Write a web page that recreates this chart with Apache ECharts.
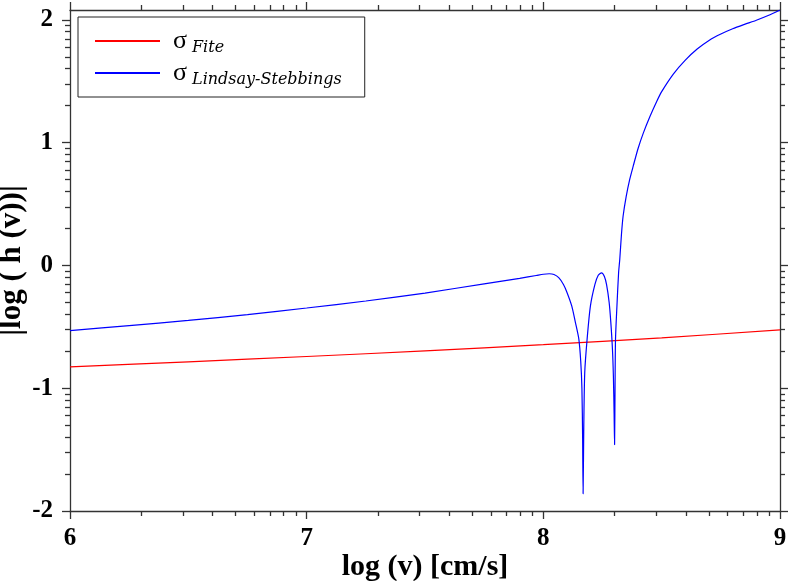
<!DOCTYPE html>
<html>
<head>
<meta charset="utf-8">
<script src="https://cdn.jsdelivr.net/npm/echarts@6/dist/echarts.min.js"></script>
<style>
  html, body { margin: 0; padding: 0; background: #fff; }
  #chart { width: 789px; height: 581px; }
</style>
</head>
<body>
<div id="chart"></div>
<script>
// tick labels
var xMajor = [6, 7, 8, 9];
var yMajor = [-2, -1, 0, 1, 2];

// sigma Fite (red)
var fiteX = [6.0, 6.5, 7.0, 7.5, 8.0, 8.5, 9.0];
var fiteY = [-0.826, -0.785, -0.742, -0.696, -0.645, -0.59, -0.525];

// sigma Lindsay-Stebbings (blue)
var lsX = [6.0, 6.25, 6.5, 6.75, 7.0, 7.25, 7.5, 7.75, 7.9, 7.97, 8.0, 8.025, 8.045, 8.065, 8.085,
  8.10, 8.12, 8.135, 8.15, 8.158, 8.163, 8.166, 8.168, 8.171, 8.175, 8.185, 8.199, 8.218, 8.232,
  8.246, 8.258, 8.267, 8.278, 8.285, 8.292, 8.296, 8.299, 8.301, 8.303, 8.305, 8.311, 8.318,
  8.323, 8.33, 8.337, 8.35, 8.365, 8.38, 8.40, 8.422, 8.45, 8.479, 8.5, 8.55, 8.6, 8.65, 8.7,
  8.75, 8.8, 8.85, 8.9, 8.95, 9.0];
var lsY = [-0.531, -0.49, -0.448, -0.40, -0.347, -0.29, -0.225, -0.15, -0.105, -0.082, -0.072,
  -0.068, -0.074, -0.1, -0.155, -0.22, -0.33, -0.46, -0.60, -0.78, -1.0, -1.4, -1.86, -1.3,
  -0.87, -0.60, -0.33, -0.155, -0.08, -0.06, -0.09, -0.155, -0.30, -0.46, -0.68, -0.90, -1.2,
  -1.46, -1.0, -0.6, -0.33, -0.06, 0.05, 0.25, 0.40, 0.56, 0.70, 0.81, 0.95, 1.075, 1.21, 1.335,
  1.415, 1.56, 1.672, 1.762, 1.832, 1.884, 1.927, 1.963, 1.997, 2.035, 2.08];

var xMin = 6, xMax = 9, yMin = -2, yMax = 2.08;

// log-style minor ticks inside each unit
function logMinor(lo, hi) {
  var out = [];
  for (var d = Math.floor(lo); d < hi; d++) {
    for (var k = 2; k <= 9; k++) {
      var v = d + Math.log10(k);
      if (v > lo && v < hi) out.push(v);
    }
  }
  return out;
}

function pairs(xs, ys) {
  return xs.map(function (x, i) { return [x, ys[i]]; });
}

var labelFont = {
  color: '#000',
  fontFamily: 'Liberation Serif',
  fontWeight: 'bold',
  fontSize: 25
};
var lineStyle = { color: '#333', width: 1.3 };

function axis(kind, pos, ticks, len, extra) {
  var o = {
    type: 'value',
    position: pos,
    min: kind === 'x' ? xMin : yMin,
    max: kind === 'x' ? xMax : yMax,
    splitLine: { show: false },
    axisLine: { show: false, onZero: false },
    axisTick: { show: true, inside: false, length: len, customValues: ticks, lineStyle: lineStyle },
    axisLabel: { show: false }
  };
  return Object.assign(o, extra || {});
}

var chart = echarts.init(document.getElementById('chart'));
chart.setOption({
  animation: false,
  backgroundColor: '#fff',
  grid: { left: 70, right: 9, top: 10, bottom: 70, containLabel: false, outerBoundsMode: 'none' },
  legend: {
    orient: 'vertical',
    left: 78,
    top: 17,
    padding: [11, 23, 9, 17],
    itemGap: 4,
    itemWidth: 65,
    itemHeight: 2,
    icon: 'rect',
    borderColor: '#222',
    borderWidth: 1,
    backgroundColor: '#fff',
    data: ['Fite', 'Lindsay-Stebbings'],
    formatter: function (name) { return '{s|σ}{sub|' + name + '}'; },
    textStyle: {
      rich: {
        s: { fontFamily: 'Liberation Serif', fontSize: 26, lineHeight: 30, color: '#000', padding: [0, 5, 0, 8] },
        sub: { fontFamily: 'DejaVu Serif', fontStyle: 'italic', fontSize: 16, lineHeight: 18, color: '#000', verticalAlign: 'bottom' }
      }
    }
  },
  xAxis: [
    axis('x', 'bottom', xMajor, 8, {
      axisLine: { show: true, onZero: false, lineStyle: lineStyle },
      axisLabel: Object.assign({ show: true, margin: 15, customValues: xMajor }, labelFont),
      name: 'log (v) [cm/s]',
      nameLocation: 'middle',
      nameGap: 41,
      nameMoveOverlap: false,
      nameTextStyle: Object.assign({}, labelFont, { fontSize: 30 })
    }),
    axis('x', 'bottom', logMinor(xMin, xMax), 5),
    axis('x', 'top', xMajor, 8, { axisLine: { show: true, onZero: false, lineStyle: lineStyle } }),
    axis('x', 'top', logMinor(xMin, xMax), 5)
  ],
  yAxis: [
    axis('y', 'left', yMajor, 8, {
      axisLine: { show: true, onZero: false, lineStyle: lineStyle },
      axisLabel: Object.assign({ show: true, margin: 17, customValues: yMajor }, labelFont),
      name: '|log ( h (v))|',
      nameLocation: 'middle',
      nameGap: 43,
      nameMoveOverlap: false,
      nameTextStyle: Object.assign({}, labelFont, { fontSize: 31 })
    }),
    axis('y', 'left', logMinor(yMin, yMax), 5),
    axis('y', 'right', yMajor, 8, { axisLine: { show: true, onZero: false, lineStyle: lineStyle } }),
    axis('y', 'right', logMinor(yMin, yMax), 5)
  ],
  series: [
    {
      name: 'Fite',
      type: 'line',
      data: pairs(fiteX, fiteY),
      showSymbol: false,
      smooth: 0.25,
      lineStyle: { color: '#ff0000', width: 1.2 },
      itemStyle: { color: '#ff0000' }
    },
    {
      name: 'Lindsay-Stebbings',
      type: 'line',
      data: pairs(lsX, lsY),
      showSymbol: false,
      smooth: 0.25,
      lineStyle: { color: '#0000ff', width: 1.2 },
      itemStyle: { color: '#0000ff' }
    }
  ]
});
</script>
</body>
</html>
